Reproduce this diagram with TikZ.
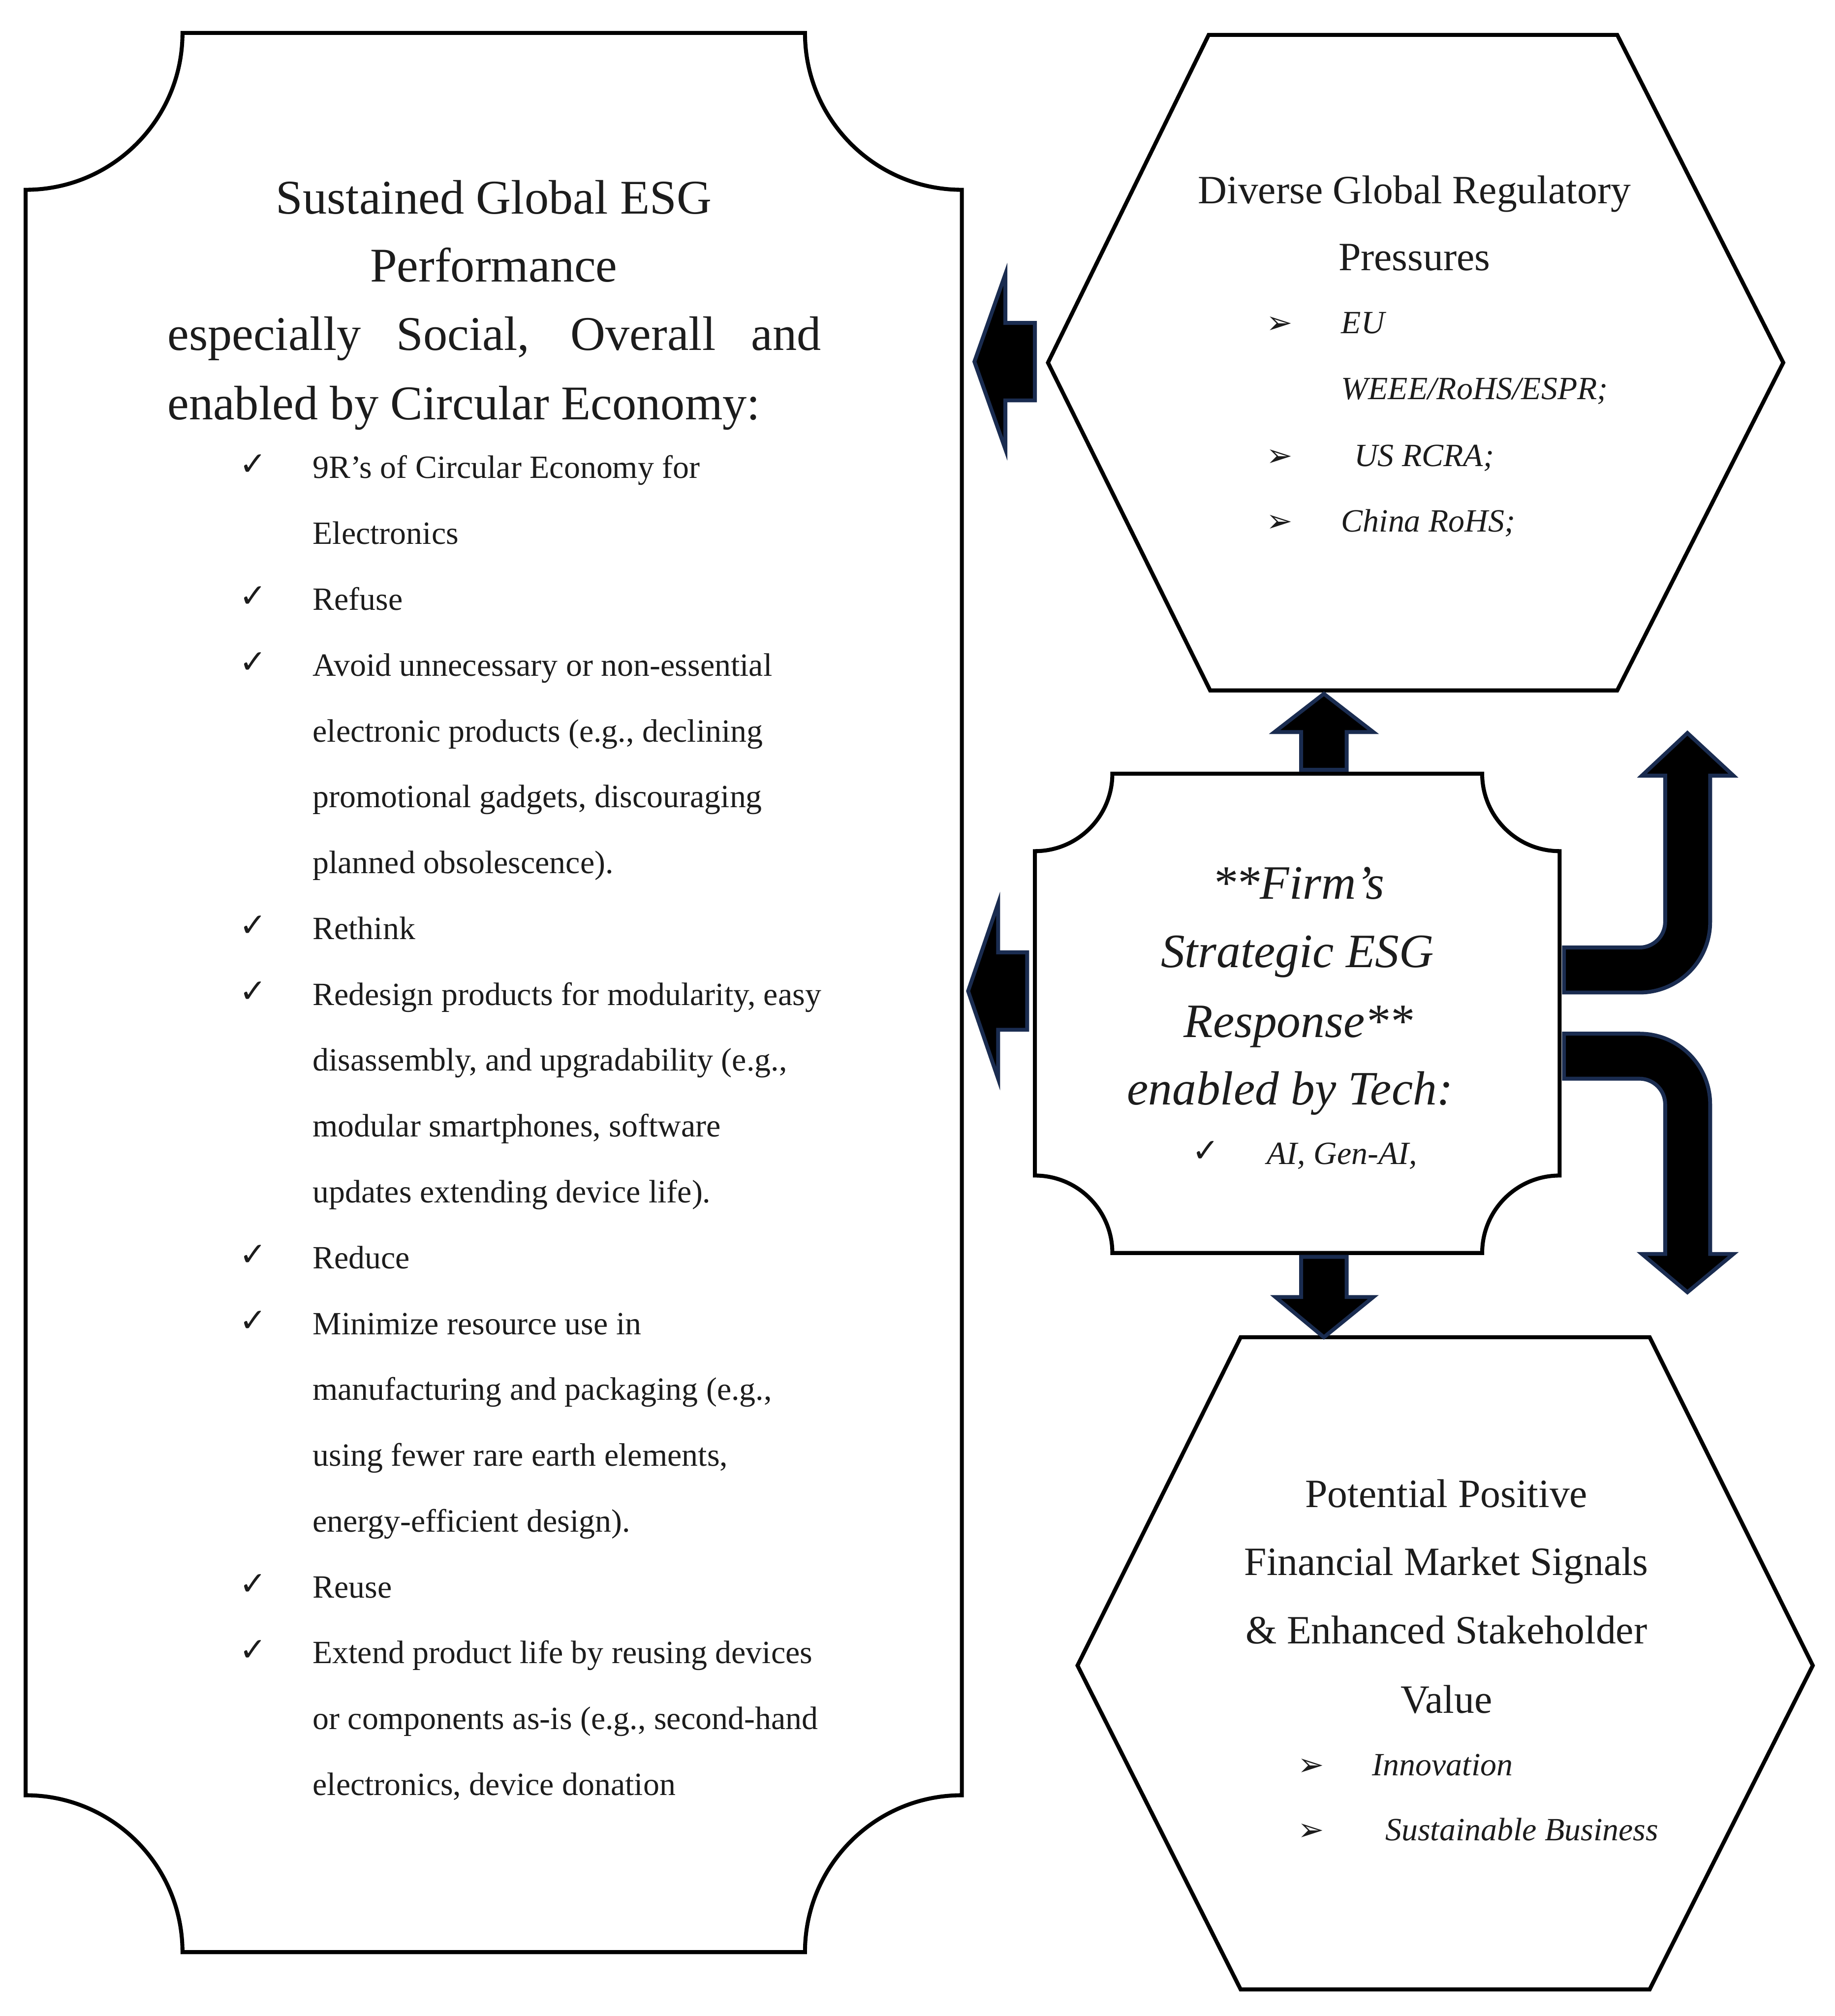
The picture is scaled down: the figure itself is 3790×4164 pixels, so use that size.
\documentclass[tikz,border=0pt]{standalone}
\usepackage{fontspec}
\usepackage{graphicx}
\setmainfont{Liberation Serif}
\newfontfamily\symfont{DejaVu Sans}
\definecolor{navy}{HTML}{1A2C50}
\definecolor{ink}{HTML}{1C1C1C}
\tikzset{
  shapeline/.style={draw=black, line width=1.65pt, line join=miter},
  blockarrow/.style={fill=black, draw=navy, line width=1.6pt, line join=miter},
  bigtitle/.style={font=\fontsize{20}{24}\selectfont, text=ink, anchor=base, inner sep=0pt},
  midtitle/.style={font=\fontsize{19.8}{24}\selectfont\itshape, text=ink, anchor=base, inner sep=0pt},
  hextitle/.style={font=\fontsize{16.6}{20}\selectfont, text=ink, anchor=base, inner sep=0pt},
  listitem/.style={font=\fontsize{13.4}{16}\selectfont, text=ink, anchor=base west, inner sep=0pt},
  italitem/.style={font=\fontsize{13.4}{16}\selectfont\itshape, text=ink, anchor=base west, inner sep=0pt},
  chk/.style={font=\symfont\fontsize{13.5}{15}\selectfont, text=ink, anchor=base, inner sep=0pt},
  arrbullet/.style={font=\symfont\fontsize{13}{15}\selectfont, text=ink, anchor=base, inner sep=0pt}
}
\begin{document}
\begin{tikzpicture}[x=0.2pt,y=0.2pt,yscale=-1]
\useasboundingbox (0,0) rectangle (3790,4164);
\fill[white] (0,0) rectangle (3790,4164);

% left plaque
\draw[shapeline] (377,68) -- (1663,68) arc[start angle=180,end angle=90,radius=324]
  -- (1987,3708) arc[start angle=270,end angle=180,radius=324]
  -- (377,4032) arc[start angle=0,end angle=-90,radius=324]
  -- (53,392) arc[start angle=90,end angle=0,radius=324] -- cycle;

% middle plaque
\draw[shapeline] (2298,1598) -- (3062,1598) arc[start angle=180,end angle=90,radius=160]
  -- (3222,2428) arc[start angle=270,end angle=180,radius=160]
  -- (2298,2588) arc[start angle=0,end angle=-90,radius=160]
  -- (2138,1758) arc[start angle=90,end angle=0,radius=160] -- cycle;

% hexagons
\draw[shapeline] (2165,749) -- (2497,72) -- (3341,72) -- (3684,749) -- (3341,1426) -- (2500,1426) -- cycle;
\draw[shapeline] (2226,3440) -- (2563,2762) -- (3408,2762) -- (3745,3440) -- (3408,4109) -- (2563,4109) -- cycle;

% block arrows
\draw[blockarrow] (2013,747) -- (2077,566) -- (2077,667) -- (2138,667) -- (2138,827) -- (2077,827) -- (2077,928) -- cycle;
\draw[blockarrow] (2000,2047) -- (2062,1866) -- (2062,1967) -- (2122,1967) -- (2122,2127) -- (2062,2127) -- (2062,2228) -- cycle;
\draw[blockarrow] (2735,1433) -- (2837,1512) -- (2782,1512) -- (2782,1590) -- (2688,1590) -- (2688,1512) -- (2633,1512) -- cycle;
\draw[blockarrow] (2735,2762) -- (2837,2679) -- (2782,2679) -- (2782,2596) -- (2688,2596) -- (2688,2679) -- (2635,2679) -- cycle;
% bent arrows
\draw[blockarrow] (3231,2050) -- (3387,2050) arc[start angle=90,end angle=0,radius=146]
  -- (3533,1602) -- (3581,1602) -- (3486,1514) -- (3392,1602) -- (3440,1602)
  -- (3440,1904) arc[start angle=0,end angle=90,radius=53] -- (3231,1957) -- cycle;
\draw[blockarrow] (3231,2135) -- (3387,2135) arc[start angle=270,end angle=360,radius=146]
  -- (3533,2590) -- (3581,2590) -- (3486,2669) -- (3392,2590) -- (3440,2590)
  -- (3440,2281) arc[start angle=0,end angle=-90,radius=53] -- (3231,2228) -- cycle;

% left plaque text
\node[bigtitle] (t1) at (1020,442) {Sustained Global ESG};
\node[bigtitle] (t2) at (1020,582) {Performance};
\node[bigtitle, anchor=base west] (t3) at (345,723) {\makebox[270pt][s]{especially Social, Overall and}};
\node[bigtitle, anchor=base west] (t4) at (345,867) {enabled by Circular Economy:};

\foreach \t [count=\i from 0] in {
  {9R’s of Circular Economy for},
  {Electronics},
  {Refuse},
  {Avoid unnecessary or non-essential},
  {electronic products (e.g., declining},
  {promotional gadgets, discouraging},
  {planned obsolescence).},
  {Rethink},
  {Redesign products for modularity, easy},
  {disassembly, and upgradability (e.g.,},
  {modular smartphones, software},
  {updates extending device life).},
  {Reduce},
  {Minimize resource use in},
  {manufacturing and packaging (e.g.,},
  {using fewer rare earth elements,},
  {energy-efficient design).},
  {Reuse},
  {Extend product life by reusing devices},
  {or components as-is (e.g., second-hand},
  {electronics, device donation}}
  \node[listitem] (L\i) at ({645},{988+136*\i}) {\t};
\foreach \i in {0,2,3,7,8,12,13,17,18}
  \node[chk] (C\i) at ({523},{982+136*\i}) {✓};

% top hexagon text
\node[hextitle] (h1) at (2922,420) {Diverse Global Regulatory};
\node[hextitle] (h2) at (2922,559) {Pressures};
\node[arrbullet] (ha1) at (2643,689) {➢};
\node[italitem] (hb1) at (2770,689) {EU};
\node[italitem] (hb2) at (2770,825) {WEEE/RoHS/ESPR;};
\node[arrbullet] (ha2) at (2643,963) {➢};
\node[italitem] (hb3) at (2797,963) {US RCRA;};
\node[arrbullet] (ha3) at (2643,1098) {➢};
\node[italitem] (hb4) at (2770,1098) {China RoHS;};

% middle text
\node[midtitle] (m1) at (2682,1857) {**Firm’s};
\node[midtitle] (m2) at (2680,1998) {Strategic ESG};
\node[midtitle] (m3) at (2682,2142) {Response**};
\node[midtitle] (m4) at (2665,2282) {enabled by Tech:};
\node[chk] (mc) at (2491,2400) {✓};
\node[italitem] (m5) at (2616,2405) {AI, Gen-AI,};

% bottom hexagon text
\node[hextitle] (p1) at (2988,3113) {Potential Positive};
\node[hextitle] (p2) at (2988,3254) {Financial Market Signals};
\node[hextitle] (p3) at (2988,3395) {\& Enhanced Stakeholder};
\node[hextitle] (p4) at (2988,3538) {Value};
\node[arrbullet] (pa1) at (2709,3667) {➢};
\node[italitem] (pb1) at (2834,3667) {Innovation};
\node[arrbullet] (pa2) at (2709,3802) {➢};
\node[italitem] (pb2) at (2861,3802) {Sustainable Business};
\end{tikzpicture}
\end{document}
